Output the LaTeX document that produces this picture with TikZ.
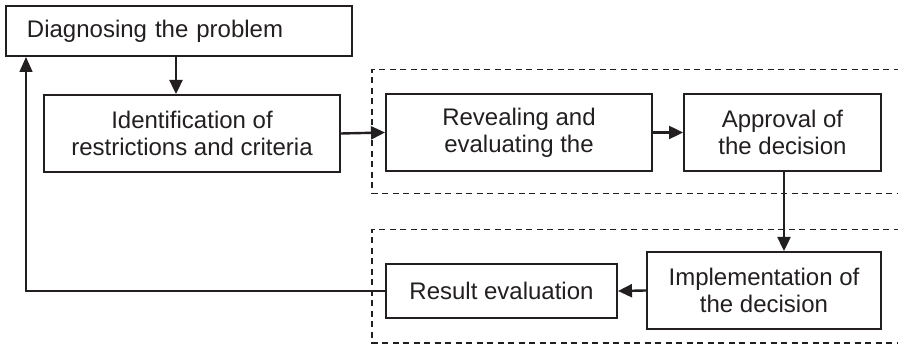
\documentclass[tikz,border=0pt]{standalone}
\usepackage{fontspec}
\setmainfont{Liberation Sans}
\usetikzlibrary{arrows.meta}
\definecolor{ink}{RGB}{35,31,32}
\tikzset{
  stepbox/.style={draw=ink, line width=2pt, text=ink, inner sep=0pt,
    align=center, font=\fontsize{24}{27}\selectfont},
  flow/.style={draw=ink, line width=2.4pt, -{Triangle[length=14pt,width=13pt]}},
  backline/.style={draw=ink, line width=1.6pt, -{Triangle[length=15pt,width=13pt]}},
  groupframe/.style={draw=ink, line width=1.6pt, dash pattern=on 6pt off 4.5pt}
}
\begin{document}
\begin{tikzpicture}[x=1pt,y=-1pt]
\useasboundingbox[fill=white] (0,0) rectangle (898,344);

% dashed group frames, open to the right
\draw[groupframe] (910,69.5) -- (372,69.5) -- (372,193.5) -- (910,193.5);
\draw[groupframe] (910,229.5) -- (372,229.5) -- (372,343) -- (910,343);

% steps
\node[stepbox, minimum height=50pt, text width=304pt, inner xsep=21pt, align=left]
  (diag) at (179,31) {Diagnosing the problem};
\node[stepbox, minimum width=296pt, minimum height=77pt]
  (ident) at (192,133.5) {Identification of\\restrictions and criteria};
\node[stepbox, minimum width=266pt, minimum height=77pt]
  (reveal) at (519,132.5) {Revealing and\\evaluating the};
\node[stepbox, minimum width=197pt, minimum height=77pt]
  (approve) at (782.5,132.5) {Approval of\\the decision};
\node[stepbox, minimum width=234pt, minimum height=77pt]
  (impl) at (764,290.5) {Implementation of\\the decision};
\node[stepbox, minimum width=231pt, minimum height=54pt]
  (result) at (501.5,291) {Result evaluation};

% connectors
\draw[flow] (diag.south -| ident.north) ++(-16,0) coordinate (d1) -- (d1 |- ident.north);
\draw[flow] (ident.east) -- (reveal.west);
\draw[flow] (reveal.east) -- (approve.west);
\draw[flow] (approve.south -| 784,0) coordinate (a1) -- (a1 |- impl.north);
\draw[flow] (impl.west) -- (result.east);
\coordinate (corner) at (26,291);
\draw[backline] (result.west) -- (corner) -- (corner |- diag.south);
\end{tikzpicture}
\end{document}
